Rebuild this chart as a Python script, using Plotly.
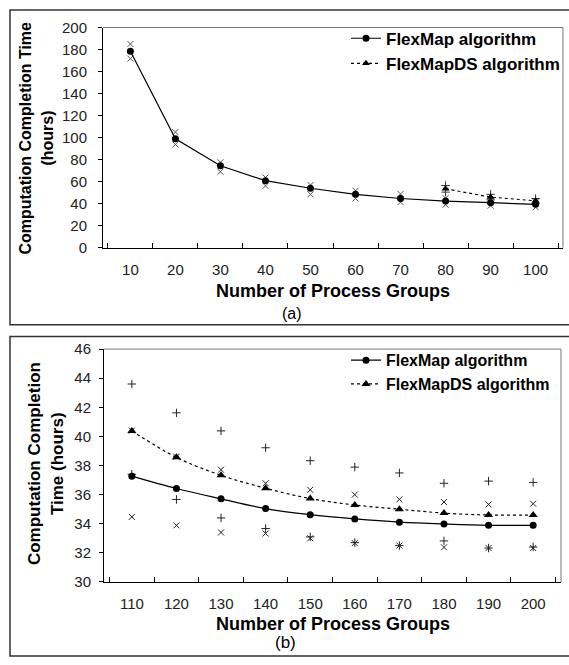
import plotly.graph_objects as go

# ---------------- data ----------------
groups_a = ["10", "20", "30", "40", "50", "60", "70", "80", "90", "100"]
flexmap_a = [178.5, 99, 74.4, 60.9, 54, 48.5, 44.7, 42.4, 40.9, 39.4]
flexmap_a_hi = [185, 105, 77.6, 63.8, 57, 51.8, 48.8, 45, 43, 41.5]
flexmap_a_lo = [171.8, 93.8, 69, 56.2, 48.5, 44.7, 41.5, 39.1, 38.2, 36.8]
groups_a_ds = ["80", "90", "100"]
flexmapds_a = [53.5, 46, 42.6]
flexmapds_a_hi = [56.5, 48.5, 44.7]
flexmapds_a_lo = [50.5, 43.5, 40.5]

groups_b = ["110", "120", "130", "140", "150", "160", "170", "180", "190", "200"]
flexmap_b = [37.27, 36.42, 35.71, 35.04, 34.62, 34.33, 34.11, 33.98, 33.89, 33.89]
flexmapds_b = [40.38, 38.56, 37.33, 36.44, 35.73, 35.29, 35.0, 34.73, 34.6, 34.6]
flexmapds_b_hi = [43.6, 41.62, 40.38, 39.22, 38.33, 37.89, 37.49, 36.78, 36.93, 36.84]
flexmapds_b_lo = [37.4, 35.67, 34.4, 33.67, 33.1, 32.7, 32.5, 32.82, 32.33, 32.4]
flexmap_b_hi = [40.4, 38.6, 37.71, 36.78, 36.33, 36.0, 35.67, 35.49, 35.33, 35.38]
flexmap_b_lo = [34.47, 33.89, 33.4, 33.33, 33.0, 32.67, 32.5, 32.38, 32.33, 32.33]

W, H = 569, 665
FONT = "Liberation Sans, Arial, sans-serif"

def px_x(p):
    return p / W

def px_y(p):
    return 1 - p / H

fig = go.Figure()

# ---------- panel (a) ----------
fig.add_trace(go.Scatter(x=groups_a, y=flexmap_a_hi, mode="markers", xaxis="x", yaxis="y",
                         marker=dict(symbol="x-thin", size=6, line=dict(width=1, color="#555")),
                         showlegend=False, hoverinfo="skip"))
fig.add_trace(go.Scatter(x=groups_a, y=flexmap_a_lo, mode="markers", xaxis="x", yaxis="y",
                         marker=dict(symbol="x-thin", size=6, line=dict(width=1, color="#555")),
                         showlegend=False, hoverinfo="skip"))
fig.add_trace(go.Scatter(x=groups_a_ds, y=flexmapds_a_hi, mode="markers", xaxis="x", yaxis="y",
                         marker=dict(symbol="cross-thin", size=6, line=dict(width=1, color="#333")),
                         showlegend=False, hoverinfo="skip"))
fig.add_trace(go.Scatter(x=groups_a_ds, y=flexmapds_a_lo, mode="markers", xaxis="x", yaxis="y",
                         marker=dict(symbol="cross-thin", size=6, line=dict(width=1, color="#333")),
                         showlegend=False, hoverinfo="skip"))
fig.add_trace(go.Scatter(x=groups_a, y=flexmap_a, mode="lines+markers", xaxis="x", yaxis="y",
                         name="FlexMap algorithm", legend="legend",
                         line=dict(color="black", width=1.2),
                         marker=dict(symbol="circle", size=7, color="black")))
fig.add_trace(go.Scatter(x=groups_a_ds, y=flexmapds_a, mode="lines+markers", xaxis="x", yaxis="y",
                         name="FlexMapDS algorithm", legend="legend",
                         line=dict(color="black", width=1.2, dash="dot"),
                         marker=dict(symbol="triangle-up", size=7, color="black")))

# ---------- panel (b) ----------
for ys, sym in [(flexmap_b_hi, "x-thin"), (flexmap_b_lo, "x-thin"),
                (flexmapds_b_hi, "cross-thin"), (flexmapds_b_lo, "cross-thin")]:
    fig.add_trace(go.Scatter(x=groups_b, y=ys, mode="markers", xaxis="x2", yaxis="y2",
                             marker=dict(symbol=sym, size=6, line=dict(width=1, color="#222")),
                             showlegend=False, hoverinfo="skip"))
fig.add_trace(go.Scatter(x=groups_b, y=flexmap_b, mode="lines+markers", xaxis="x2", yaxis="y2",
                         name="FlexMap algorithm", legend="legend2",
                         line=dict(color="black", width=1.2, shape="spline"),
                         marker=dict(symbol="circle", size=7, color="black")))
fig.add_trace(go.Scatter(x=groups_b, y=flexmapds_b, mode="lines+markers", xaxis="x2", yaxis="y2",
                         name="FlexMapDS algorithm", legend="legend2",
                         line=dict(color="black", width=1.2, dash="dot", shape="spline"),
                         marker=dict(symbol="triangle-up", size=8, color="black")))

tickfont = dict(family=FONT, size=15, color="#222")

xa = dict(type="category", tickson="boundaries", ticks="inside", ticklen=5, tickcolor="black",
          showline=True, linecolor="black", linewidth=1, showgrid=False, zeroline=False,
          tickfont=tickfont, fixedrange=True)
ya = dict(ticks="outside", ticklen=4, tickcolor="black", showline=True, linecolor="black",
          linewidth=1, showgrid=False, zeroline=False, tickfont=tickfont, fixedrange=True)

fig.update_layout(
    width=W, height=H, margin=dict(l=0, r=0, t=0, b=0),
    paper_bgcolor="white", plot_bgcolor="white",
    font=dict(family=FONT, color="black"),
    xaxis=dict(xa, domain=[px_x(103), px_x(563)], anchor="y", ticklabelstandoff=8),
    yaxis=dict(ya, domain=[px_y(245), px_y(19)], anchor="x", range=[0, 200], dtick=20,
               ticklabelstandoff=8),
    xaxis2=dict(xa, domain=[px_x(104), px_x(561)], anchor="y2", ticklabelstandoff=8),
    yaxis2=dict(ya, domain=[px_y(588), px_y(349)], anchor="x2", range=[30, 46], dtick=2,
                ticklabelstandoff=5),
    legend=dict(x=px_x(346), y=px_y(12), xanchor="left", yanchor="top",
                bgcolor="rgba(0,0,0,0)", tracegroupgap=0, itemwidth=30,
                font=dict(family=FONT, size=17, color="black", weight="bold")),
    legend2=dict(x=px_x(346), y=px_y(343), xanchor="left", yanchor="top",
                 bgcolor="rgba(0,0,0,0)", tracegroupgap=0, itemwidth=30,
                 font=dict(family=FONT, size=16, color="black", weight="bold")),
)

shapes = []
# plot-area top/right borders (gray)
for xr, yr in [("x domain", "y domain"), ("x2 domain", "y2 domain")]:
    shapes.append(dict(type="line", xref=xr, yref=yr, x0=0, x1=1, y0=1, y1=1,
                       line=dict(color="#777", width=1)))
    shapes.append(dict(type="line", xref=xr, yref=yr, x0=1, x1=1, y0=0, y1=1,
                       line=dict(color="#777", width=1)))
# outer frames
shapes.append(dict(type="rect", xref="paper", yref="paper", x0=px_x(10), x1=px_x(572),
                   y0=px_y(324), y1=px_y(1), line=dict(color="#333", width=1.5)))
shapes.append(dict(type="rect", xref="paper", yref="paper", x0=px_x(10), x1=px_x(572),
                   y0=px_y(664), y1=px_y(336), line=dict(color="#333", width=1.5)))
fig.update_layout(shapes=shapes)

bold = lambda s: dict(family=FONT, size=s, color="black", weight="bold")
ann = [
    dict(text="Computation Completion Time", x=px_x(26), y=px_y(133), textangle=-90, font=bold(16)),
    dict(text="(hours)", x=px_x(48), y=px_y(133), textangle=-90, font=bold(16)),
    dict(text="Number of Process Groups", x=px_x(333), y=px_y(289), font=bold(18)),
    dict(text="(a)", x=px_x(292), y=px_y(312), font=dict(family=FONT, size=16, color="black")),
    dict(text="Computation Completion", x=px_x(34), y=px_y(467), textangle=-90, font=bold(17)),
    dict(text="Time (hours)", x=px_x(57), y=px_y(467), textangle=-90, font=bold(17)),
    dict(text="Number of Process Groups", x=px_x(333), y=px_y(631), font=bold(18)),
    dict(text="(b)", x=px_x(285), y=px_y(650), font=dict(family=FONT, size=17, color="black")),
]
for a in ann:
    a.update(xref="paper", yref="paper", showarrow=False, xanchor="center", yanchor="middle")
fig.update_layout(annotations=ann)

fig.write_html("out.html")
